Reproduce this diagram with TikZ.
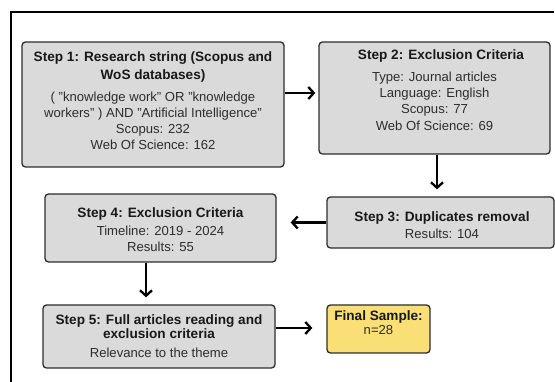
\documentclass[tikz,border=0pt]{standalone}
\usepackage{fontspec}
\setmainfont{Liberation Sans}[Ligatures=NoCommon]
\usetikzlibrary{arrows.meta}
\definecolor{boxgray}{RGB}{218,218,218}
\definecolor{boxline}{RGB}{45,45,45}
\definecolor{finalyellow}{RGB}{250,222,118}
\definecolor{txt}{RGB}{25,25,25}
\definecolor{bodytxt}{RGB}{45,45,45}
\newcommand{\dq}{\symbol{34}}
\tikzset{
  stepbox/.style={draw=boxline, line width=1.3pt, fill=boxgray, rounded corners=3.5pt, inner sep=0pt},
  finalbox/.style={stepbox, fill=finalyellow},
  ttl/.style={anchor=base, inner sep=0pt, text=txt, font=\fontsize{13.6}{15}\selectfont\bfseries},
  bdy/.style={anchor=base, inner sep=0pt, text=bodytxt, font=\fontsize{13.1}{15}\selectfont},
  arr/.style={line width=2.3pt, draw=black, -{Straight Barb[length=5.5pt,width=12pt]}},
}
\begin{document}
\begin{tikzpicture}[x=1pt,y=1pt]
\useasboundingbox (0,0) rectangle (555,382);
\fill[white] (0,0) rectangle (555,382);
% frame
\draw[line width=1.6pt] (11,-2) -- (11,370) -- (554,370);
% boxes
\node[stepbox, minimum width=262pt, minimum height=125pt] (b1) at (153,277.5) {};
\node[stepbox, minimum width=231pt, minimum height=112pt] (b2) at (434.5,284) {};
\node[stepbox, minimum width=227pt, minimum height=51pt] (b3) at (440.5,159.5) {};
\node[stepbox, minimum width=231pt, minimum height=68pt] (b4) at (160.5,154) {};
\node[stepbox, minimum width=232pt, minimum height=63pt] (b5) at (159,45.5) {};
\node[finalbox, minimum width=103pt, minimum height=48pt] (f) at (378.5,53) {};
% texts box 1
\node[ttl] (b1t1) at (153,320) {Step 1: Research string (Scopus and};
\node[ttl] (b1t2) at (153,302) {WoS databases)};
\node[bdy] (b1l1) at (153,280) {( \dq knowledge work\dq{} OR \dq knowledge};
\node[bdy] (b1l2) at (153,264) {workers\dq{} ) AND \dq Artificial Intelligence\dq};
\node[bdy] (b1l3) at (153,248) {Scopus: 232};
\node[bdy] (b1l4) at (153,232) {Web Of Science: 162};
% box 2
\node[ttl] (b2t1) at (441,322) {Step 2: Exclusion Criteria};
\node[bdy] (b2l1) at (434.5,300.5) {Type: Journal articles};
\node[bdy] (b2l2) at (434.5,284.5) {Language: English};
\node[bdy] (b2l3) at (434.5,268) {Scopus: 77};
\node[bdy] (b2l4) at (434.5,251.5) {Web Of Science: 69};
% box 3
\node[ttl] (b3t1) at (442,160) {Step 3: Duplicates removal};
\node[bdy] (b3l1) at (442,143) {Results: 104};
% box 4
\node[ttl] (b4t1) at (160.5,164) {Step 4: Exclusion Criteria};
\node[bdy] (b4l1) at (160.5,146) {Timeline: 2019 - 2024};
\node[bdy] (b4l2) at (160.5,130) {Results: 55};
% box 5
\node[ttl] (b5t1) at (159,57) {Step 5: Full articles reading and};
\node[ttl] (b5t2) at (159,43) {exclusion criteria};
\node[bdy] (b5l1) at (159,24.5) {Relevance to the theme};
% final
\node[ttl] (ft1) at (378.5,61) {Final Sample:};
\node[bdy] (fl1) at (378.5,47) {n=28};
% connectors
\coordinate (a12) at (0,289);
\coordinate (a23) at (437,0);
\coordinate (a45) at (146,0);
\coordinate (a5f) at (0,54);
\draw[arr, shorten >=3pt] (b1.east |- a12) -- (b2.west |- a12);
\draw[arr, shorten >=7pt] (a23 |- b2.south) -- (a23 |- b3.north);
\draw[arr, shorten >=14pt] (b3.west) -- (b3.west -| b4.east);
\draw[arr, shorten >=7pt] (a45 |- b4.south) -- (a45 |- b5.north);
\draw[arr, shorten >=14pt] (b5.east |- a5f) -- (f.west |- a5f);
\end{tikzpicture}
\end{document}
